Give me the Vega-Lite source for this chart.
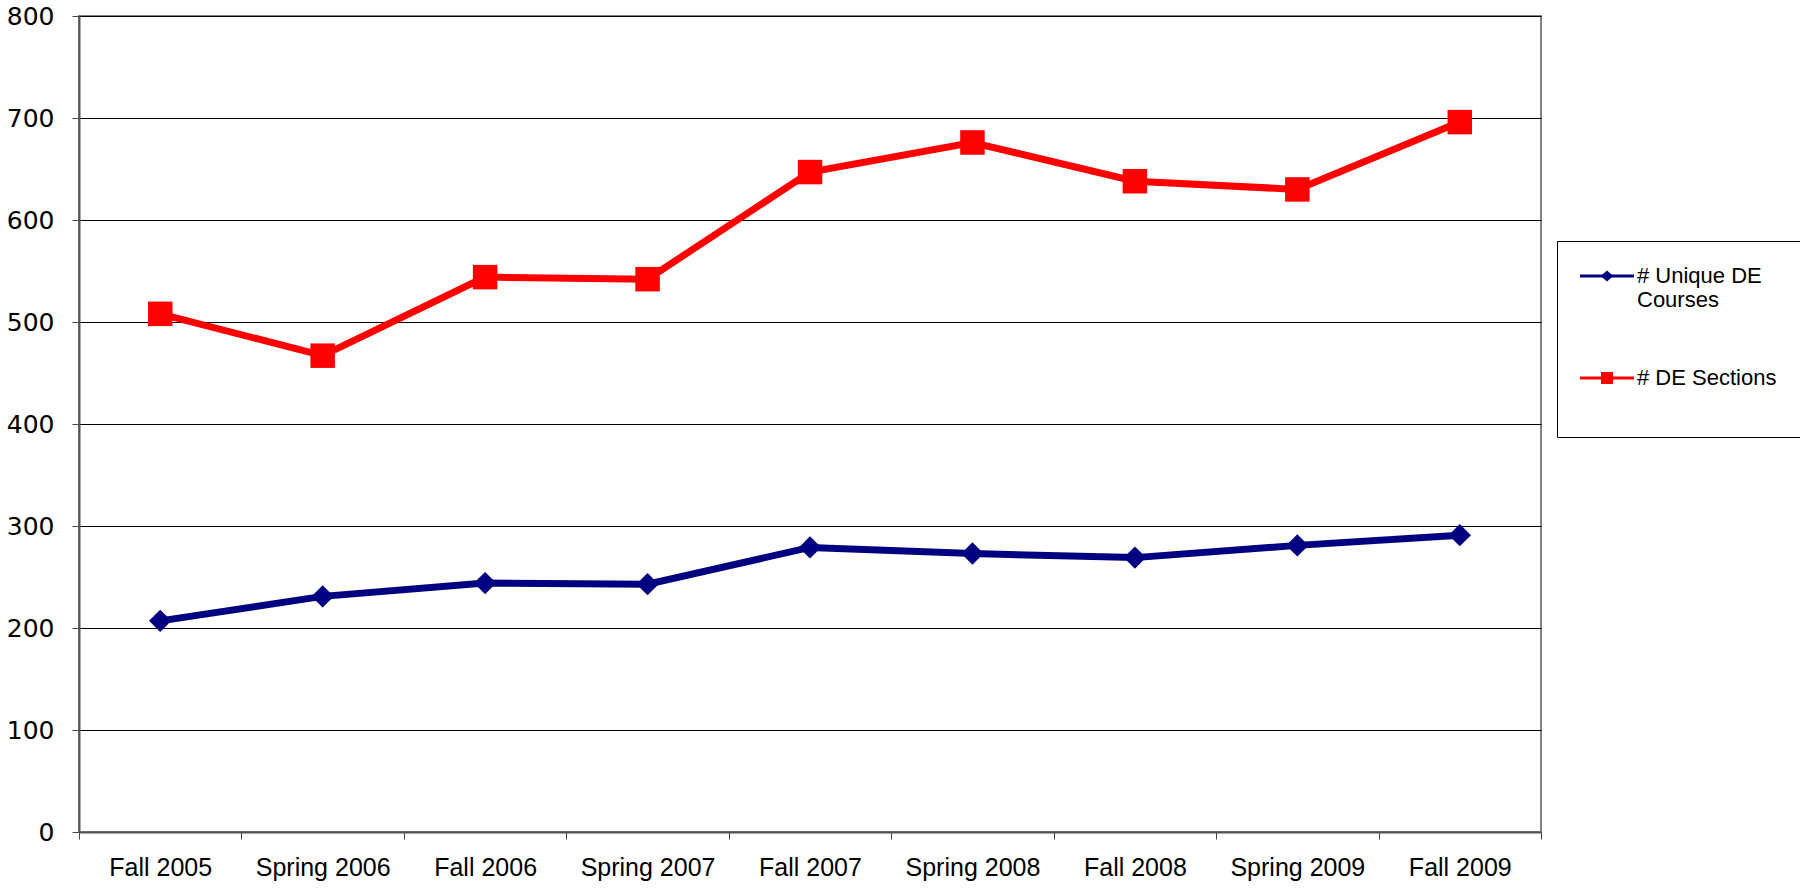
{
  "$schema": "https://vega.github.io/schema/vega-lite/v6.json",
  "width": 1462,
  "height": 816,
  "autosize": "none",
  "padding": {"left": 79, "top": 16, "right": 259, "bottom": 60},
  "background": "white",
  "config": {
    "font": "Liberation Sans",
    "view": {"stroke": "#808080", "strokeWidth": 2}
  },
  "data": {
    "values": [
      {"semester": "Fall 2005", "series": "# Unique DE Courses", "value": 207},
      {"semester": "Spring 2006", "series": "# Unique DE Courses", "value": 231},
      {"semester": "Fall 2006", "series": "# Unique DE Courses", "value": 244},
      {"semester": "Spring 2007", "series": "# Unique DE Courses", "value": 243},
      {"semester": "Fall 2007", "series": "# Unique DE Courses", "value": 279},
      {"semester": "Spring 2008", "series": "# Unique DE Courses", "value": 273},
      {"semester": "Fall 2008", "series": "# Unique DE Courses", "value": 269},
      {"semester": "Spring 2009", "series": "# Unique DE Courses", "value": 281},
      {"semester": "Fall 2009", "series": "# Unique DE Courses", "value": 291},
      {"semester": "Fall 2005", "series": "# DE Sections", "value": 508},
      {"semester": "Spring 2006", "series": "# DE Sections", "value": 467},
      {"semester": "Fall 2006", "series": "# DE Sections", "value": 544},
      {"semester": "Spring 2007", "series": "# DE Sections", "value": 542},
      {"semester": "Fall 2007", "series": "# DE Sections", "value": 647},
      {"semester": "Spring 2008", "series": "# DE Sections", "value": 676},
      {"semester": "Fall 2008", "series": "# DE Sections", "value": 638},
      {"semester": "Spring 2009", "series": "# DE Sections", "value": 630},
      {"semester": "Fall 2009", "series": "# DE Sections", "value": 696}
    ]
  },
  "encoding": {
    "x": {
      "field": "semester",
      "type": "nominal",
      "sort": ["Fall 2005", "Spring 2006", "Fall 2006", "Spring 2007", "Fall 2007", "Spring 2008", "Fall 2008", "Spring 2009", "Fall 2009"],
      "scale": {"paddingInner": 0, "paddingOuter": 0},
      "axis": {
        "title": null,
        "labelAngle": 0,
        "tickBand": "extent",
        "labelFontSize": 25,
        "labelColor": "black",
        "tickColor": "#444444",
        "tickSize": 7,
        "domainColor": "#555555",
        "domainWidth": 2,
        "labelPadding": 16,
        "grid": false
      }
    },
    "y": {
      "field": "value",
      "type": "quantitative",
      "scale": {"domain": [0, 800]},
      "axis": {
        "title": null,
        "values": [0, 100, 200, 300, 400, 500, 600, 700, 800],
        "labelFont": "DejaVu Sans",
        "labelFontSize": 25,
        "labelColor": "black",
        "gridColor": "#000000",
        "gridWidth": 1,
        "gridOpacity": 1,
        "tickSize": 7,
        "tickColor": "#444444",
        "domainColor": "#555555",
        "domainWidth": 2,
        "labelPadding": 18
      }
    },
    "color": {
      "field": "series",
      "type": "nominal",
      "scale": {"domain": ["# Unique DE Courses", "# DE Sections"], "range": ["#000080", "#FF0000"]},
      "legend": {
        "title": null,
        "orient": "none",
        "legendX": 1478,
        "legendY": 225,
        "padding": 24,
        "symbolSize": 400,
        "symbolOpacity": 1,
        "symbolStrokeWidth": 0,
        "symbolOffset": 15,
        "labelOffset": 19,
        "labelFontSize": 22,
        "labelColor": "black",
        "labelLimit": 400,
        "rowPadding": 56,
        "strokeColor": "#000000",
        "fillColor": "white",
        "labelExpr": "datum.label == '# Unique DE Courses' ? ['# Unique DE', 'Courses'] : [datum.label, '']"
      }
    },
    "shape": {
      "field": "series",
      "type": "nominal",
      "scale": {
        "domain": ["# Unique DE Courses", "# DE Sections"],
        "range": [
          "M-2.7,-0.15L2.7,-0.15L2.7,0.15L-2.7,0.15ZM-0.65,0L0,-0.55L0.65,0L0,0.55Z",
          "M-2.7,-0.15L2.7,-0.15L2.7,0.15L-2.7,0.15ZM-0.6,-0.6L0.6,-0.6L0.6,0.6L-0.6,0.6Z"
        ]
      },
      "legend": {
        "title": null,
        "orient": "none",
        "legendX": 1478,
        "legendY": 225,
        "padding": 24,
        "symbolSize": 400,
        "symbolOpacity": 1,
        "symbolStrokeWidth": 0,
        "symbolOffset": 15,
        "labelOffset": 19,
        "labelFontSize": 22,
        "labelColor": "black",
        "labelLimit": 400,
        "rowPadding": 56,
        "strokeColor": "#000000",
        "fillColor": "white",
        "labelExpr": "datum.label == '# Unique DE Courses' ? ['# Unique DE', 'Courses'] : [datum.label, '']"
      }
    }
  },
  "layer": [
    {
      "mark": {"type": "line", "strokeWidth": 7},
      "encoding": {"shape": null}
    },
    {
      "mark": {"type": "point", "filled": true, "opacity": 1, "strokeWidth": 0},
      "encoding": {
        "shape": {"condition": {"test": "datum.series == '# DE Sections'", "value": "square"}, "value": "diamond"},
        "size": {"condition": {"test": "datum.series == '# DE Sections'", "value": 600}, "value": 500}
      }
    },
    {
      "mark": {"type": "point", "filled": true, "opacity": 0}
    }
  ]
}
